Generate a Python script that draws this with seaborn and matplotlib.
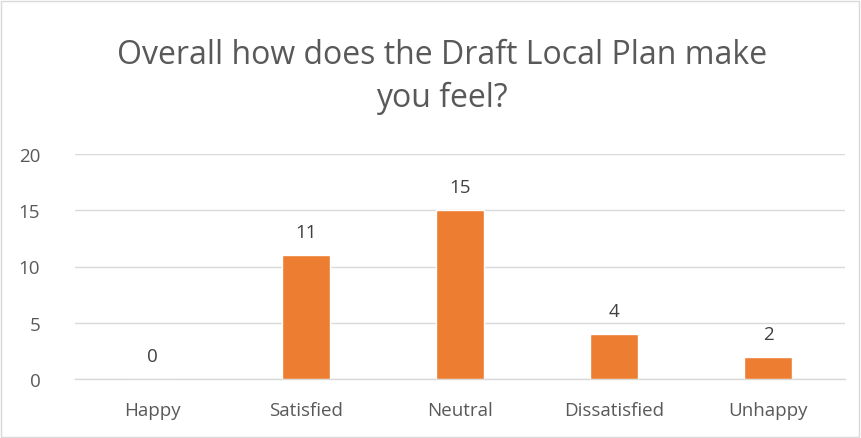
import matplotlib
matplotlib.use("Agg")
import matplotlib.pyplot as plt
import seaborn as sns
import pandas as pd
from matplotlib.patches import Rectangle

categories = ["Happy", "Satisfied", "Neutral", "Dissatisfied", "Unhappy"]
values = [0, 11, 15, 4, 2]
yticks = [0, 5, 10, 15, 20]
title = "Overall how does the Draft Local Plan make\nyou feel?"

sns.set_theme(style="white")
plt.rcParams['font.family'] = ['Open Sans', 'DejaVu Sans']

df = pd.DataFrame({"cat": categories, "val": values})

fig = plt.figure(figsize=(8.61, 4.39), dpi=100)
ax = fig.add_axes([75/861, 1-380/439, (845-75)/861, (380-155)/439])

sns.barplot(data=df, x="cat", y="val", color="#ED7D31", width=0.31,
            saturation=1, ax=ax, zorder=3)

ax.set_ylim(0, 20)
ax.set_xlim(-0.5, 4.5)
ax.set_yticks(yticks)
ax.set_yticklabels([str(t) for t in yticks])
ax.yaxis.grid(True, color="#D9D9D9", linewidth=1, zorder=0)
ax.set_axisbelow(True)
for s in ["left", "right", "top"]:
    ax.spines[s].set_visible(False)
ax.spines["bottom"].set_color("#D9D9D9")
ax.spines["bottom"].set_linewidth(1)
ax.set_xlabel("")
ax.set_ylabel("")
ax.tick_params(axis="x", length=0, labelsize=13.5, colors="#595959", pad=16)
ax.tick_params(axis="y", length=0, labelsize=13.5, colors="#595959", pad=25)

for i, v in enumerate(values):
    ax.annotate(str(v), (i, v), xytext=(0, 10), textcoords="offset points",
                ha="center", va="bottom", fontsize=13.5, color="#404040")

fig.text(442/861, 1-77/439, title, ha="center", va="center", fontsize=23,
         color="#595959", linespacing=1.42)

fig.patches.append(Rectangle((1/861, 1/439), 858/861, 436/439, transform=fig.transFigure,
                             fill=False, edgecolor="#D9D9D9", linewidth=1))

fig.savefig("out.png", dpi=100)
